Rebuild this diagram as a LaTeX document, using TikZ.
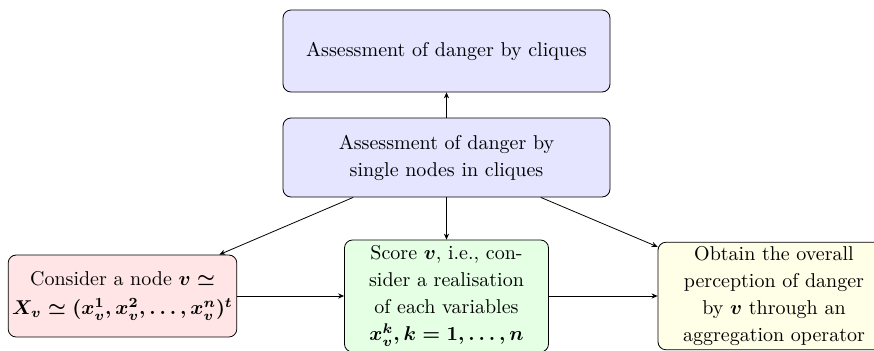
\documentclass[tikz,border=0pt]{standalone}
\usepackage{amsmath,amssymb}
\usetikzlibrary{arrows.meta}
\begin{document}
\begin{tikzpicture}[x=1pt,y=1pt,
  box/.style={draw, rounded corners=4pt, align=center, inner sep=2pt,
    font=\linespread{1.13}\selectfont},
  arr/.style={-{Stealth[length=3pt,width=2.6pt]}, thin}]
\useasboundingbox (0,0) rectangle (437,175);
\node[box, fill=blue!10, minimum width=163.5pt, minimum height=41pt] (top) at (223.25,149.5) {Assessment of danger by cliques};
\node[box, fill=blue!10, minimum width=163.5pt, minimum height=39.5pt] (mid) at (223.25,96.25) {Assessment of danger by\\ single nodes in cliques};
\node[box, fill=red!10, minimum width=111.5pt, minimum height=41pt] (left) at (61.25,27) {Consider a node {\boldmath$v \simeq$}\\[1pt] {\boldmath$X_v \simeq (x_v^1, x_v^2, \ldots, x_v^n)^t$}};
\node[box, fill=green!10, minimum width=102pt, minimum height=56pt] (cen) at (223.25,27) {Score {\boldmath$v$}, i.e., con-\\ sider a realisation\\ of each variables\\ {\boldmath$x_v^k, k = 1, \ldots, n$}};
\node[box, fill=yellow!10, minimum width=116pt, minimum height=53pt] (right) at (387,27) {Obtain the overall\\ perception of danger\\ by {\boldmath$v$} through an\\ aggregation operator};
\draw[arr] (mid) -- (top);
\draw[arr] (mid) -- (cen);
\draw[arr] (mid) -- (left);
\draw[arr] (mid) -- (right);
\draw[arr] (left) -- (cen);
\draw[arr] (cen) -- (right);
\end{tikzpicture}
\end{document}
